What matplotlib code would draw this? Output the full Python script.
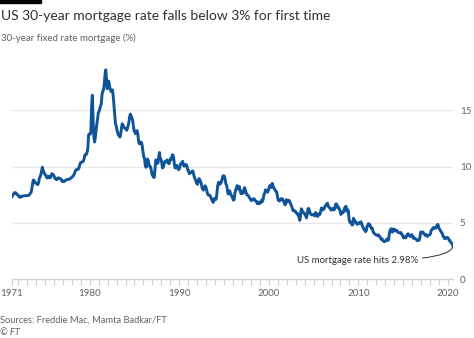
"""US 30-year fixed mortgage rate, 1971-2020."""

import numpy as np
import pandas as pd
import matplotlib
matplotlib.use('Agg')
import matplotlib.pyplot as plt

plt.rcParams['font.family'] = ['Lato', 'DejaVu Sans']

# Monthly average 30-year fixed rate (%), starting April 1971
start_month = "1971-04"
monthly_rate = [
    7.31, 7.43, 7.53, 7.60, 7.70, 7.69, 7.63, 7.55, 7.48,                  # 1971
    7.44, 7.32, 7.29, 7.29, 7.37, 7.37, 7.40, 7.40, 7.42, 7.43, 7.43, 7.44,  # 1972
    7.44, 7.44, 7.46, 7.54, 7.65, 7.73, 8.05, 8.50, 8.82, 8.77, 8.58, 8.54,  # 1973
    8.54, 8.46, 8.41, 8.58, 8.97, 9.09, 9.28, 9.59, 9.95, 9.70, 9.53, 9.35,  # 1974
    9.31, 9.17, 9.02, 8.99, 9.14, 9.13, 9.03, 9.03, 9.28, 9.38, 9.33, 9.27,  # 1975
    9.11, 8.96, 8.92, 8.85, 8.88, 9.00, 9.00, 8.98, 8.95, 8.89, 8.77, 8.69,  # 1976
    8.72, 8.66, 8.73, 8.77, 8.83, 8.86, 8.87, 8.88, 8.89, 8.94, 8.98, 9.01,  # 1977
    9.10, 9.15, 9.25, 9.38, 9.57, 9.71, 9.74, 9.78, 9.76, 9.86, 10.11, 10.35,  # 1978
    10.39, 10.41, 10.43, 10.50, 10.69, 11.04, 11.09, 11.09, 11.30, 11.64, 12.83, 12.90,  # 1979
    12.88, 13.04, 15.28, 16.35, 14.26, 12.71, 12.19, 12.56, 13.20, 13.79, 14.21, 14.79,  # 1980
    14.90, 15.13, 15.40, 15.58, 16.40, 16.70, 16.83, 17.29, 18.16, 18.60, 17.83, 16.92,  # 1981
    17.40, 17.60, 17.16, 16.89, 16.68, 16.70, 16.82, 16.27, 15.43, 14.61, 13.83, 13.62,  # 1982
    13.25, 13.04, 12.80, 12.78, 12.63, 12.87, 13.42, 13.81, 13.73, 13.54, 13.44, 13.42,  # 1983
    13.37, 13.23, 13.39, 13.65, 13.94, 14.42, 14.67, 14.47, 14.35, 14.13, 13.64, 13.18,  # 1984
    13.08, 12.92, 13.17, 13.20, 12.91, 12.22, 12.03, 12.19, 12.19, 12.14, 11.78, 11.26,  # 1985
    10.88, 10.71, 10.08, 9.94, 10.14, 10.68, 10.51, 10.20, 10.01, 9.98, 9.70, 9.31,  # 1986
    9.20, 9.08, 9.04, 9.83, 10.60, 10.54, 10.28, 10.33, 10.89, 11.26, 10.65, 10.64,  # 1987
    10.38, 9.89, 9.93, 10.20, 10.46, 10.46, 10.43, 10.60, 10.48, 10.30, 10.27, 10.61,  # 1988
    10.73, 10.65, 11.03, 11.05, 10.77, 10.20, 9.88, 9.99, 10.13, 9.95, 9.77, 9.74,  # 1989
    9.90, 10.20, 10.27, 10.37, 10.48, 10.16, 10.04, 10.10, 10.18, 10.18, 10.01, 9.67,  # 1990
    9.64, 9.37, 9.50, 9.49, 9.47, 9.62, 9.58, 9.24, 9.01, 8.86, 8.71, 8.50,  # 1991
    8.43, 8.76, 8.94, 8.85, 8.67, 8.51, 8.13, 7.98, 7.92, 8.09, 8.31, 8.22,  # 1992
    7.99, 7.68, 7.50, 7.47, 7.47, 7.42, 7.21, 7.11, 6.92, 6.83, 7.16, 7.17,  # 1993
    7.06, 7.15, 7.68, 8.32, 8.60, 8.40, 8.61, 8.51, 8.64, 8.93, 9.17, 9.20,  # 1994
    9.15, 8.83, 8.46, 8.32, 7.96, 7.57, 7.61, 7.86, 7.64, 7.48, 7.38, 7.20,  # 1995
    7.03, 7.08, 7.62, 7.93, 8.07, 8.32, 8.25, 8.00, 8.23, 7.92, 7.62, 7.60,  # 1996
    7.82, 7.65, 7.90, 8.14, 7.94, 7.69, 7.50, 7.48, 7.43, 7.29, 7.21, 7.10,  # 1997
    6.99, 7.04, 7.13, 7.14, 7.14, 7.00, 6.95, 6.92, 6.72, 6.71, 6.87, 6.72,  # 1998
    6.79, 6.81, 7.04, 6.92, 7.15, 7.55, 7.63, 7.94, 7.82, 7.85, 7.74, 7.91,  # 1999
    8.21, 8.33, 8.24, 8.15, 8.52, 8.29, 8.15, 8.03, 7.91, 7.80, 7.75, 7.38,  # 2000
    7.03, 7.05, 6.95, 7.08, 7.15, 7.16, 7.13, 6.95, 6.82, 6.62, 6.66, 7.07,  # 2001
    7.00, 6.89, 7.01, 6.99, 6.81, 6.65, 6.49, 6.29, 6.09, 6.11, 6.07, 6.05,  # 2002
    5.92, 5.84, 5.75, 5.81, 5.48, 5.23, 5.63, 6.26, 6.15, 5.95, 5.93, 5.88,  # 2003
    5.71, 5.64, 5.45, 5.83, 6.27, 6.29, 6.06, 5.87, 5.75, 5.72, 5.73, 5.75,  # 2004
    5.71, 5.63, 5.93, 5.86, 5.72, 5.58, 5.70, 5.82, 5.77, 6.07, 6.33, 6.27,  # 2005
    6.15, 6.25, 6.32, 6.51, 6.60, 6.68, 6.76, 6.52, 6.40, 6.36, 6.24, 6.14,  # 2006
    6.22, 6.29, 6.16, 6.18, 6.26, 6.66, 6.70, 6.57, 6.38, 6.38, 6.21, 6.10,  # 2007
    5.76, 5.92, 5.97, 5.92, 6.04, 6.32, 6.43, 6.48, 6.04, 6.20, 6.09, 5.33,  # 2008
    5.06, 5.13, 5.00, 4.81, 4.86, 5.42, 5.22, 5.19, 5.06, 4.95, 4.88, 4.93,  # 2009
    5.03, 4.99, 4.97, 5.10, 4.89, 4.74, 4.56, 4.43, 4.35, 4.23, 4.30, 4.71,  # 2010
    4.76, 4.95, 4.84, 4.84, 4.64, 4.51, 4.55, 4.27, 4.11, 4.07, 3.99, 3.96,  # 2011
    3.92, 3.89, 3.95, 3.91, 3.80, 3.68, 3.55, 3.60, 3.50, 3.38, 3.35, 3.35,  # 2012
    3.41, 3.53, 3.57, 3.45, 3.54, 4.07, 4.37, 4.46, 4.49, 4.19, 4.26, 4.46,  # 2013
    4.43, 4.30, 4.34, 4.34, 4.19, 4.16, 4.13, 4.12, 4.16, 4.04, 4.00, 3.86,  # 2014
    3.67, 3.71, 3.77, 3.67, 3.84, 3.98, 4.05, 3.91, 3.89, 3.80, 3.94, 3.96,  # 2015
    3.87, 3.66, 3.69, 3.61, 3.60, 3.57, 3.44, 3.44, 3.46, 3.47, 3.77, 4.20,  # 2016
    4.15, 4.17, 4.20, 4.05, 4.01, 3.90, 3.97, 3.88, 3.81, 3.90, 3.92, 3.95,  # 2017
    4.03, 4.33, 4.44, 4.47, 4.59, 4.57, 4.53, 4.55, 4.63, 4.83, 4.87, 4.64,  # 2018
    4.46, 4.37, 4.27, 4.14, 4.07, 3.80, 3.77, 3.62, 3.61, 3.69, 3.70, 3.72,  # 2019
    3.62, 3.47, 3.45, 3.31, 3.23, 3.16, 2.98,                                # 2020
]

year_ticks = [1971, 1980, 1990, 2000, 2010, 2020]
rate_ticks = [0, 5, 10, 15]

title = "US 30-year mortgage rate falls below 3% for first time"
subtitle = "30-year fixed rate mortgage (%)"
source = "Sources: Freddie Mac, Mamta Badkar/FT"
note = "US mortgage rate hits 2.98%"

FT_BLUE = "#0f5499"
GRID = "#e9e6e3"
TEXT_GREY = "#66605c"

dates = pd.date_range(start_month, periods=len(monthly_rate), freq="MS")
x = dates.year + (dates.month - 0.5) / 12
y = np.array(monthly_rate)

fig = plt.figure(figsize=(4.74, 3.38), dpi=100)
fig.patch.set_facecolor("white")
ax = fig.add_axes([0.0247, 0.1737, 0.931, 0.633])

ax.plot(x, y, color=FT_BLUE, linewidth=2.1, solid_joinstyle="round", zorder=3)

ax.set_xlim(x[0], x[-1] + 0.02)
ax.set_ylim(0, 19)

# Horizontal gridlines, axis line at zero
for v in rate_ticks[1:]:
    ax.axhline(v, color=GRID, linewidth=0.9, zorder=1)
for side in ["top", "right", "left"]:
    ax.spines[side].set_visible(False)
ax.spines["bottom"].set_color("#d4d0cc")
ax.spines["bottom"].set_linewidth(1.0)

ax.yaxis.tick_right()
ax.set_yticks(rate_ticks)
ax.tick_params(axis="y", length=0, pad=5, labelsize=7, labelcolor=TEXT_GREY)

# Yearly minor ticks, decade labels
ax.set_xticks(np.arange(1972, 2021), minor=True)
ax.set_xticks([x[0] if t == 1971 else t for t in year_ticks])
ax.set_xticklabels([str(t) for t in year_ticks])
ax.tick_params(axis="x", which="both", length=4, width=0.8, color="#d4d0cc",
               labelsize=7, labelcolor=TEXT_GREY, pad=3)

ax.annotate(note, xy=(x[-1], y[-1]), xytext=(2016.7, 1.63),
            ha="right", va="center", fontsize=6.9, color="#33302e",
            arrowprops=dict(arrowstyle="-", color="#33302e", linewidth=0.7,
                            connectionstyle="angle3,angleA=0,angleB=-90",
                            shrinkA=1, shrinkB=1))

# Header and footer
fig.add_artist(plt.Rectangle((0, 1 - 3 / 338), 41 / 474, 3 / 338,
                             transform=fig.transFigure, color="black"))
fig.text(0.002, 1 - 16.5 / 338, title, fontsize=10, color="#33302e", va="center")
fig.text(0.002, 1 - 38 / 338, subtitle, fontsize=7, color=TEXT_GREY, va="center")
fig.text(0.0, 1 - 320.5 / 338, source, fontsize=6.7, color=TEXT_GREY, va="center")
fig.text(0.0, 1 - 332.5 / 338, "\u00a9 FT", fontsize=6.7, color=TEXT_GREY,
         va="center", style="italic")

plt.savefig("out.png", dpi=100, facecolor="white")
plt.close()
